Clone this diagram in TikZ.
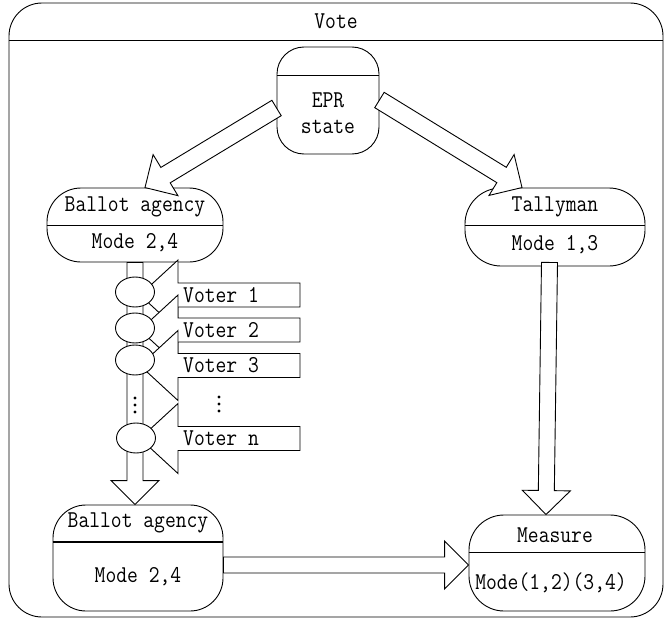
\documentclass[tikz,border=0pt]{standalone}
\usetikzlibrary{calc,shapes.geometric}

\tikzset{
  line/.style={line width=0.9pt},
  hollow/.style={draw, line width=0.9pt, fill=white, line join=miter},
  box/.style={draw, line width=0.9pt, fill=white, inner sep=0pt},
  lbl/.style={font=\ttfamily\fontsize{21}{23}\selectfont, inner sep=0pt, anchor=center,
    yscale=1.15, transform shape},
  token/.style={ellipse, draw, line width=0.9pt, fill=white,
    minimum width=39pt, minimum height=30pt, inner sep=0pt},
  dot/.style={circle, fill=black, inner sep=0pt, minimum size=3.4pt},
}

% hollow block arrow: [half shaft width]{start}{tip}
\newcommand\blockarrow[3][8]{%
  \coordinate (hb) at ($(#3)!24pt!(#2)$);
  \draw[hollow] ($(#2)!#1pt!90:(#3)$) -- ($(hb)!#1pt!-90:(#2)$)
    -- ($(hb)!24pt!-90:(#2)$) -- (#3) -- ($(hb)!24pt!90:(#2)$)
    -- ($(hb)!#1pt!90:(#2)$) -- ($(#2)!#1pt!-90:(#3)$) -- cycle;}

% voter arrow pointing left, centre line at y = #1
\newcommand\voterarrow[1]{%
  \draw[hollow] (300,{#1-12}) -- (178,{#1-12}) -- (178,{#1-35}) -- (140,#1)
    -- (178,{#1+35}) -- (178,{#1+12}) -- (300,{#1+12}) -- cycle;}

\begin{document}
\begin{tikzpicture}[x=1pt,y=-1pt]
\useasboundingbox (0,0) rectangle (670,621);

% outer frame
\node[box, rounded corners=33pt, minimum width=654pt, minimum height=614pt] (frame) at (336,310) {};
\draw[line] (frame.west |- 0,40) -- (frame.east |- 0,40);
\node[lbl] (title) at (336,21) {Vote};

% state boxes
\node[box, rounded corners=27pt, minimum width=102pt, minimum height=107pt] (epr) at (328,100.5) {};
\draw[line] (epr.west |- 0,75) -- (epr.east |- 0,75);
\node[lbl] (eprA) at (328,100) {EPR};
\node[lbl] (eprB) at (328,127) {state};

\node[box, rounded corners=34pt, minimum width=176pt, minimum height=74pt] (ba1) at (135,225) {};
\draw[line] (ba1.west) -- (ba1.east);
\node[lbl] (ba1A) at (135,207) {Ballot agency};
\node[lbl] (ba1B) at (135,243) {Mode 2,4};

\node[box, rounded corners=36pt, minimum width=180pt, minimum height=78pt] (tally) at (555,227) {};
\draw[line] (tally.west |- 0,225) -- (tally.east |- 0,225);
\node[lbl] (tallyA) at (555,207) {Tallyman};
\node[lbl] (tallyB) at (555,245) {Mode 1,3};

\node[box, rounded corners=33pt, minimum width=170pt, minimum height=106pt] (ba2) at (138,558) {};
\draw[line width=1.8pt] (ba2.west |- 0,542) -- (ba2.east |- 0,542);
\node[lbl] (ba2A) at (138,523) {Ballot agency};
\node[lbl] (ba2B) at (138,577) {Mode 2,4};

\node[box, rounded corners=35pt, minimum width=176pt, minimum height=96pt] (meas) at (557,563) {};
\draw[line] (meas.west |- 0,552) -- (meas.east |- 0,552);
\node[lbl] (measA) at (555,535) {Measure};
\node[lbl] (measB) at (551,583) {Mode(1,2)(3,4)};

% ballot chain
\blockarrow{ba1.south}{$(ba2.north)+(-3,0)$}
\voterarrow{295}
\voterarrow{330}
\voterarrow{365.5}
\voterarrow{438.5}
\node[token] (b1) at (135,292) {};
\node[token] (b2) at (135,328) {};
\node[token] (b3) at (135,360) {};
\node[token] (bn) at (136,438) {};
\node[lbl, anchor=west] (v1) at (183,295) {Voter 1};
\node[lbl, anchor=west] (v2) at (183,330) {Voter 2};
\node[lbl, anchor=west] (v3) at (183,365) {Voter 3};
\node[lbl, anchor=west] (vn) at (183,438) {Voter n};
\foreach \yy [count=\i] in {398,405,412} {
  \node[dot] (sd\i) at (135,\yy) {};
  \node[dot] (vd\i) at (219,\yy-1) {};
}

% distribution of the EPR pairs
\blockarrow[9]{$(epr.west)+(0,7.5)$}{$(ba1.north)+(10,0)$}
\blockarrow[9]{$(epr.east)+(0,-0.5)$}{$(tally.north)+(-33,0)$}

% measurement
\blockarrow{$(tally.south)+(-5.5,-4)$}{$(meas.north)+(-11,0)$}
\blockarrow{$(ba2.east)+(0,7)$}{$(meas.west)+(0,2)$}
\end{tikzpicture}
\end{document}
